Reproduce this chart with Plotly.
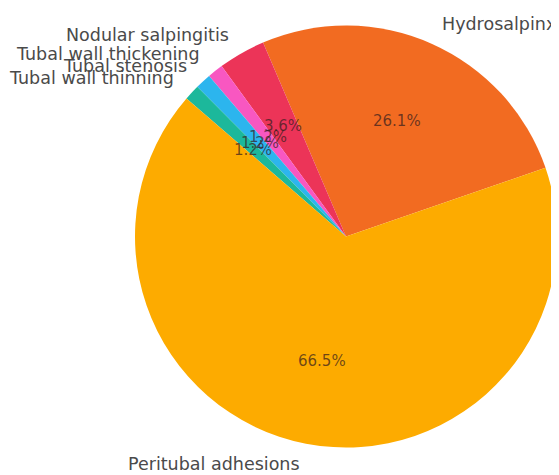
import math
import plotly.graph_objects as go

# ---- data ----
labels = ["Hydrosalpinx", "Nodular salpingitis", "Tubal wall thickening",
          "Tubal stenosis", "Tubal wall thinning", "Peritubal adhesions"]
percents = [26.1, 3.6, 1.2, 1.2, 1.2, 66.5]
colors = ["#F26B21", "#EC3458", "#F857C1", "#2CB5EE", "#1CB89B", "#FDAB00"]

# ---- layout geometry ----
FIG_W, FIG_H = 559, 475
PAGE_OFF = 8  # default body margin of the html page
ML, MR, MT, MB = 135 - PAGE_OFF, 2 + PAGE_OFF, 25 - PAGE_OFF, 27 + PAGE_OFF
PW, PH = FIG_W - ML - MR, FIG_H - MT - MB
R = min(PW, PH) / 2.0
START_DEG = 19.0  # math angle (ccw from 3 o'clock) where first slice starts

total = sum(percents)
first_end = START_DEG + percents[0] / total * 360.0
# plotly (ccw): first slice spans clockwise angles [rotation, rotation + a1]
rotation = 90.0 - first_end

fig = go.Figure(go.Pie(
    labels=labels, values=percents, sort=False,
    direction="counterclockwise", rotation=rotation,
    marker=dict(colors=colors, line=dict(width=0)),
    textinfo="none", hoverinfo="label+percent", showlegend=False,
    domain=dict(x=[0, 1], y=[0, 1]),
))

cum = 0.0
annotations = []
for lab, v in zip(labels, percents):
    mid = math.radians(START_DEG + (cum + v / 2) / total * 360.0)
    cum += v
    c, s = math.cos(mid), math.sin(mid)
    annotations.append(dict(
        x=0.5 + 0.6 * R * c / PW, y=0.5 + 0.6 * R * s / PH,
        xref="paper", yref="paper", text=f"{v:.1f}%", showarrow=False,
        xanchor="center", yanchor="middle",
        font=dict(family="DejaVu Sans", size=15, color="rgba(55,30,30,0.72)"),
    ))
    annotations.append(dict(
        x=0.5 + 1.1 * R * c / PW, y=0.5 + 1.1 * R * s / PH,
        xref="paper", yref="paper", text=lab, showarrow=False,
        xanchor="left" if c > 0 else "right", yanchor="middle",
        font=dict(family="DejaVu Sans", size=17.5, color="#4a4a4a"),
    ))

fig.update_layout(
    width=FIG_W, height=FIG_H,
    margin=dict(l=ML, r=MR, t=MT, b=MB),
    paper_bgcolor="white", plot_bgcolor="white",
    annotations=annotations,
)
fig.write_html("out.html")
